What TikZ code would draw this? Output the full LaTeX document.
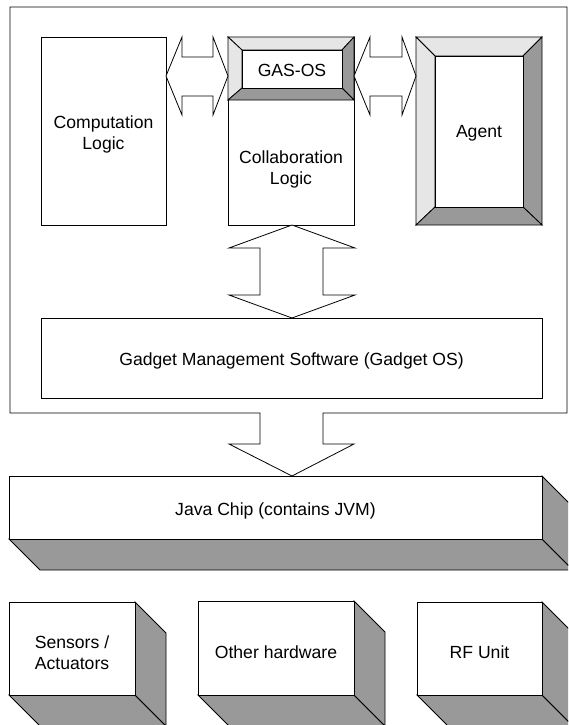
\documentclass[tikz,border=0pt]{standalone}
\usepackage{fontspec}
\setmainfont{Liberation Sans}
\definecolor{lite}{HTML}{E6E6E6}
\definecolor{dark}{HTML}{999999}
\tikzset{
  edge/.style={draw=black, line width=0.8pt, line join=miter},
  lbl/.style={font=\fontsize{17.6}{21}\selectfont, align=center, inner sep=0pt},
  plainbox/.style={edge, fill=white, rectangle, inner sep=0pt},
  blockarrow/.style={edge, fill=white},
}
\begin{document}
\begin{tikzpicture}[x=1pt,y=-1pt]
\useasboundingbox (0,0) rectangle (568,725);
\clip (0,0) rectangle (568,725);
\fill[white] (0,0) rectangle (568,725);

% outer frame with the downward block arrow
\draw[blockarrow] (10,7) -- (567,7) -- (567,413) -- (323,413) -- (323,444) -- (354,444)
  -- (292,476) -- (229,444) -- (260,444) -- (260,413) -- (10,413) -- cycle;

% Computation Logic
\node[plainbox, minimum width=125pt, minimum height=188pt] (comp) at (103.5,131) {};
\node[lbl] (comptxt) at ([yshift=-3pt]comp.center) {Computation\\Logic};

% Collaboration Logic box with GAS-OS on top
\node[plainbox, minimum width=126pt, minimum height=188pt] (collab) at (291,131) {};
\node[lbl] (collabtxt) at (291,169) {Collaboration\\Logic};
\fill[lite, edge] (228,37) -- (354,37) -- (342,50) -- (242,50) -- cycle;
\fill[lite, edge] (228,37) -- (242,50) -- (242,88) -- (228,100) -- cycle;
\fill[dark, edge] (354,37) -- (354,100) -- (342,88) -- (342,50) -- cycle;
\fill[dark, edge] (228,100) -- (354,100) -- (342,88) -- (242,88) -- cycle;
\node[plainbox, minimum width=100pt, minimum height=38pt] (gas) at (292,69) {};
\node[lbl] (gastxt) at ([yshift=-1pt]gas.center) {GAS-OS};

% Agent (bevelled)
\fill[lite, edge] (416,37) -- (542,37) -- (523,56) -- (435,56) -- cycle;
\fill[lite, edge] (416,37) -- (435,56) -- (435,207) -- (416,225) -- cycle;
\fill[dark, edge] (542,37) -- (542,225) -- (523,207) -- (523,56) -- cycle;
\fill[dark, edge] (416,225) -- (542,225) -- (523,207) -- (435,207) -- cycle;
\node[plainbox, minimum width=88pt, minimum height=151pt] (agent) at (479,131.5) {};
\node[lbl] (agenttxt) at ([yshift=-2pt]agent.center) {Agent};

% horizontal double block arrows
\draw[blockarrow] (166,76) -- (182,37) -- (182,57) -- (213,57) -- (213,37) -- (228,76)
  -- (213,115) -- (213,96) -- (182,96) -- (182,115) -- cycle;
\draw[blockarrow] (354,76) -- (370,37) -- (370,57) -- (402,57) -- (402,37) -- (416,76)
  -- (402,115) -- (402,96) -- (370,96) -- (370,115) -- cycle;

% vertical double block arrow
\draw[blockarrow] (292,225) -- (355,248) -- (323,248) -- (323,295) -- (355,295) -- (292,318)
  -- (229,295) -- (260,295) -- (260,248) -- (229,248) -- cycle;

% Gadget Management Software
\node[plainbox, minimum width=501pt, minimum height=80pt] (gms) at (291.5,358) {};
\node[lbl] (gmstxt) at ([yshift=-3pt]gms.center) {Gadget Management Software (Gadget OS)};

% Java chip (3D slab)
\fill[dark, edge] (9,539) -- (542,539) -- (573,570) -- (40,570) -- cycle;
\fill[dark, edge] (542,476) -- (573,507) -- (573,570) -- (542,539) -- cycle;
\node[plainbox, minimum width=533pt, minimum height=63pt] (chip) at (275.5,507.5) {};
\node[lbl] (chiptxt) at ([yshift=-3pt]chip.center) {Java Chip (contains JVM)};

% hardware cubes
\fill[dark, edge] (9,695) -- (135,695) -- (166,726) -- (40,726) -- cycle;
\fill[dark, edge] (135,602) -- (166,633) -- (166,726) -- (135,695) -- cycle;
\node[plainbox, minimum width=126pt, minimum height=93pt] (sens) at (72,648.5) {};
\node[lbl] (senstxt) at ([yshift=-4pt]sens.center) {Sensors /\\Actuators};

\fill[dark, edge] (198,695) -- (354,695) -- (385,726) -- (229,726) -- cycle;
\fill[dark, edge] (354,601) -- (385,632) -- (385,726) -- (354,695) -- cycle;
\node[plainbox, minimum width=156pt, minimum height=94pt] (other) at (276,648) {};
\node[lbl] (othertxt) at ([yshift=-4pt]other.center) {Other hardware};

\fill[dark, edge] (417,695) -- (542,695) -- (573,726) -- (448,726) -- cycle;
\fill[dark, edge] (542,602) -- (573,633) -- (573,726) -- (542,695) -- cycle;
\node[plainbox, minimum width=125pt, minimum height=93pt] (rf) at (479.5,648.5) {};
\node[lbl] (rftxt) at ([yshift=-4pt]rf.center) {RF Unit};
\end{tikzpicture}
\end{document}
